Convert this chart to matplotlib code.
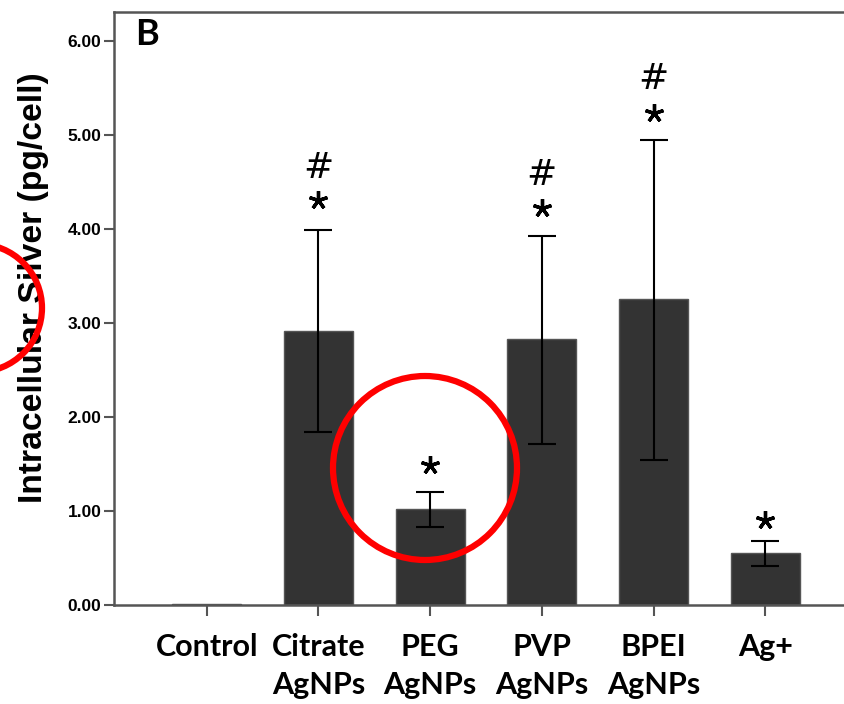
import matplotlib.pyplot as plt
from matplotlib.patches import Circle

groups = ["Control", "Citrate\nAgNPs", "PEG\nAgNPs", "PVP\nAgNPs", "BPEI\nAgNPs", "Ag+"]
means = [0.01, 2.92, 1.02, 2.83, 3.26, 0.55]
err_hi = [0.0, 3.99, 1.20, 3.93, 4.95, 0.68]
err_lo = [0.0, 1.84, 0.83, 1.71, 1.54, 0.41]
star_y = [None, 4.31, 1.49, 4.22, 5.24, 0.90]
hash_y = [None, 4.68, None, 4.61, 5.63, None]
yticks = [0, 1, 2, 3, 4, 5, 6]

fig = plt.figure(figsize=(8.45, 7.04), dpi=100)
ax = fig.add_axes([114/845, (704-605)/704, (858-114)/845, (605-12)/704])

x = list(range(len(groups)))
lower = [m - l if l else 0 for m, l in zip(means, err_lo)]
upper = [h - m if h else 0 for m, h in zip(means, err_hi)]
ax.bar(x, means, width=0.62, color="#333333", edgecolor="#555555", linewidth=1, zorder=2)
for i in x:
    if err_hi[i]:
        ax.errorbar(i, means[i], yerr=[[lower[i]], [upper[i]]], color="black",
                    lw=1.5, capsize=10, capthick=1.5, zorder=3)
    if star_y[i] is not None:
        ax.plot(i, star_y[i], marker=(5, 2, 0), ms=13.5, mew=2.4, color="black")
    if hash_y[i] is not None:
        # '#' glyph: shift baseline so the ink is centred on hash_y
        ax.text(i, hash_y[i] - 0.14, "#", ha="center", va="baseline", fontsize=26,
                family="DejaVu Sans")

ax.set_xlim(-0.83, 5.83)
ax.set_ylim(0, 6.31)
ax.set_yticks(yticks)
ax.set_yticklabels([f"{v:.2f}" for v in yticks], fontsize=12.5, fontweight="bold",
                   family="Liberation Sans")
ax.set_xticks(x)
ax.set_xticklabels(groups, fontsize=22, fontweight="bold", family="Lato", linespacing=1.45)
for lab in ax.get_xticklabels():
    lab.set_verticalalignment("top")
ax.tick_params(axis="x", length=8, width=1.5, color="#555555", pad=12)
ax.tick_params(axis="y", length=7, width=1.5, color="#555555", pad=2)
for s in ["left", "bottom", "top"]:
    ax.spines[s].set_color("#555555")
    ax.spines[s].set_linewidth(1.8)
ax.spines["right"].set_visible(False)

ax.set_ylabel("Intracellular Silver (pg/cell)", fontsize=24.2, fontweight="bold",
              family="Liberation Sans")
ax.yaxis.set_label_coords(-0.088, 0.535)
fig.text(135/845, 1 - 45/704, "B", fontsize=26, fontweight="bold", family="Lato")

# red circles drawn over the figure
for cx, cy, r in [(425, 468, 92), (-22, 308, 64)]:
    fig.patches.append(Circle((cx, 704 - cy), r, transform=None, fill=False,
                              edgecolor="#ff0000", lw=4.5, zorder=10))

fig.savefig("out.png", dpi=100)
